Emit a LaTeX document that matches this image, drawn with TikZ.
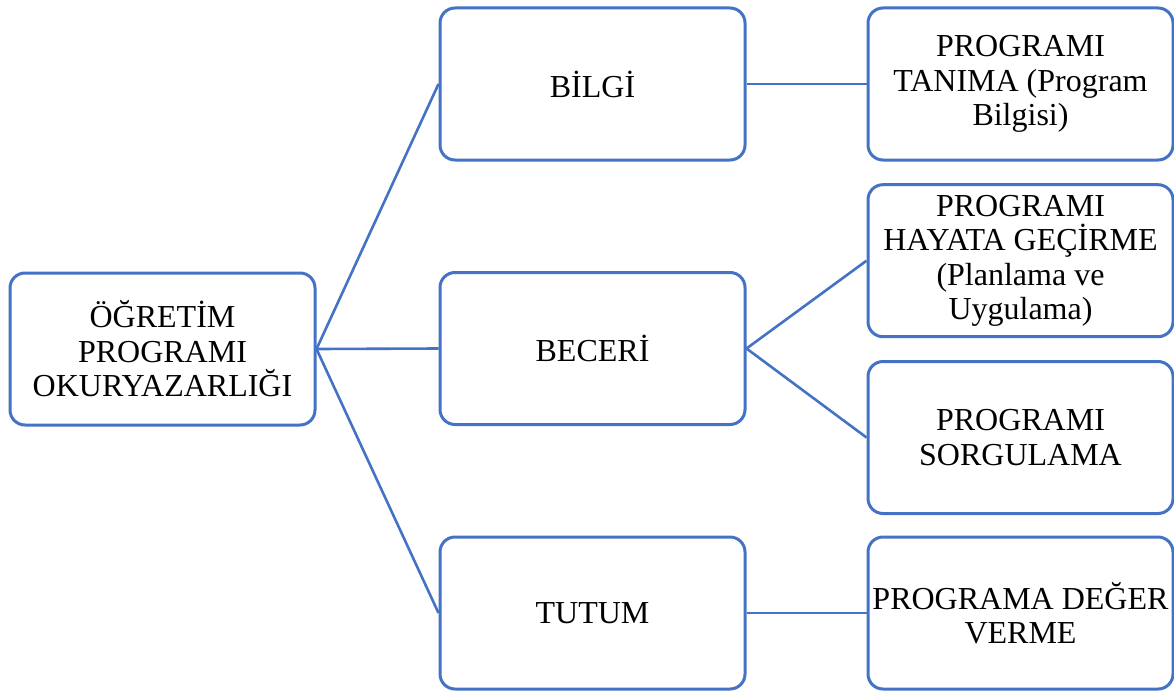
\documentclass[tikz,border=0pt]{standalone}
\usepackage{fontspec}
\setmainfont{Liberation Serif}
\definecolor{boxblue}{HTML}{4472C4}
\tikzset{
  box/.style={draw=boxblue, line width=3pt, rounded corners=15pt, fill=white,
    minimum width=305pt, minimum height=152pt, inner sep=0pt, align=center,
    font=\fontsize{32}{34.4}\selectfont, text=black},
  link/.style={draw=boxblue, line width=2.6pt}
}
\begin{document}
\begin{tikzpicture}[x=1pt,y=-1pt]
\useasboundingbox (0,0) rectangle (1174,693);
\node[box] (root) at (162.5,349) {ÖĞRETİM\\PROGRAMI\\OKURYAZARLIĞI};
\node[box] (bilgi) at (592.5,84) {BİLGİ};
\node[box] (beceri) at (592.5,348.5) {BECERİ};
\node[box] (tutum) at (592.5,613) {TUTUM};
\node[box] (tanima) at (1020.5,84) {PROGRAMI\\TANIMA (Program\\Bilgisi)};
\node[box] (hayata) at (1020.5,260.7) {PROGRAMI\\HAYATA GEÇİRME\\(Planlama ve\\Uygulama)};
\node[box] (sorgu) at (1020.5,437.5) {PROGRAMI\\SORGULAMA};
\node[box] (deger) at (1020.5,613) {PROGRAMA DEĞER\\VERME};
\draw[link] (root.east) -- (bilgi.west);
\draw[link] (root.east) -- (beceri.west);
\draw[link] (root.east) -- (tutum.west);
\draw[link] (bilgi.east) -- (tanima.west);
\draw[link] (beceri.east) -- (hayata.west);
\draw[link] (beceri.east) -- (sorgu.west);
\draw[link] (tutum.east) -- (deger.west);
\end{tikzpicture}
\end{document}
